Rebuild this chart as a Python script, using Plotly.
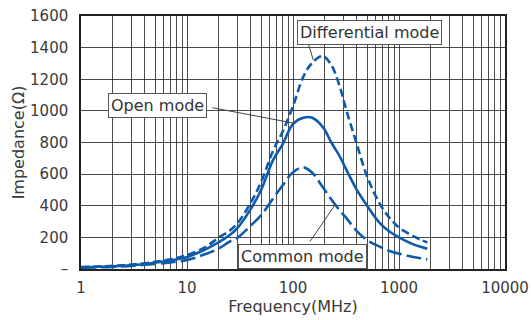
import math
import plotly.graph_objects as go

freq_mhz = [1, 2, 3, 5, 7, 10, 15, 20, 25, 30, 40, 50, 65, 80, 100, 125, 150, 190,
            230, 280, 320, 400, 500, 650, 800, 1000, 1300, 1600, 1850]
differential = [12, 20, 28, 45, 62, 88, 140, 200, 240, 290, 420, 550, 750, 870, 1030,
                1215, 1300, 1347, 1290, 1140, 1000, 790, 585, 420, 330, 262, 215, 185, 168]
open_mode = [10, 17, 24, 40, 55, 76, 125, 170, 212, 260, 380, 500, 690, 790, 918,
             957, 958, 900, 800, 705, 625, 500, 400, 295, 240, 200, 162, 140, 128]
common = [8, 13, 20, 32, 42, 57, 95, 130, 172, 198, 275, 340, 447, 530, 612,
          643, 612, 520, 440, 365, 320, 240, 182, 143, 116, 97, 79, 68, 61]

x_ticks = [1, 10, 100, 1000, 10000]
x_minor = [m * 10 ** d for d in range(4) for m in range(2, 10)]
y_ticks = [0, 200, 400, 600, 800, 1000, 1200, 1400, 1600]
y_labels = ["–"] + [str(v) for v in y_ticks[1:]]

blue = "#0f5bab"
font = "DejaVu Sans"

fig = go.Figure()
fig.add_trace(go.Scatter(x=freq_mhz, y=differential, mode="lines", name="Differential mode",
                         line=dict(color=blue, width=2.6, dash="8px,4px", shape="spline")))
fig.add_trace(go.Scatter(x=freq_mhz, y=open_mode, mode="lines", name="Open mode",
                         line=dict(color=blue, width=2.6, shape="spline")))
fig.add_trace(go.Scatter(x=freq_mhz, y=common, mode="lines", name="Common mode",
                         line=dict(color=blue, width=2.6, dash="15px,5px", shape="spline")))

grid = "rgba(30,30,30,0.8)"
fig.update_layout(
    width=531, height=320,
    margin=dict(l=81, r=26, t=16, b=51),
    paper_bgcolor="white", plot_bgcolor="white",
    showlegend=False,
    font=dict(family=font, size=15, color="#3a3a3a"),
    xaxis=dict(type="log", range=[0, 4], tickvals=x_ticks, ticktext=[str(v) for v in x_ticks],
               showgrid=True, gridcolor=grid, gridwidth=1,
               minor=dict(tickvals=x_minor, showgrid=True, gridcolor=grid, gridwidth=1, ticks=""),
               showline=True, linecolor="#222", linewidth=1.5, mirror=True,
               ticks="", ticklabelstandoff=4, automargin=False,
               title=dict(text="Frequency(MHz)", font=dict(size=16), standoff=4),
               zeroline=False),
    yaxis=dict(range=[0, 1600], tickvals=y_ticks, ticktext=y_labels,
               showgrid=True, gridcolor=grid, gridwidth=1,
               showline=True, linecolor="#222", linewidth=1.5, mirror=True,
               ticks="", ticklabelstandoff=8, automargin=False,
               title=dict(text="Impedance(Ω)", font=dict(size=16), standoff=1),
               zeroline=False),
)

# leader lines (log10 frequency, impedance)
leaders = [
    ((2.144, 1427), (2.191, 1322)),
    ((1.239, 1020), (2.019, 921)),
    ((2.160, 173), (2.396, 405)),
]
for (x0, y0), (x1, y1) in leaders:
    fig.add_shape(type="line", xref="x", yref="y", x0=10 ** x0, y0=y0, x1=10 ** x1, y1=y1,
                  line=dict(color="#444", width=1))

boxes = [("Differential mode", 2.722, 1496), ("Open mode", 0.726, 1037), ("Common mode", 2.090, 80)]
for text, bx, by in boxes:
    fig.add_annotation(x=bx, y=by, xref="x", yref="y", text=text, showarrow=False,
                       font=dict(size=16, color="#333", family=font),
                       bgcolor="white", bordercolor="#555", borderwidth=1, borderpad=2)

fig.write_html("out.html")
